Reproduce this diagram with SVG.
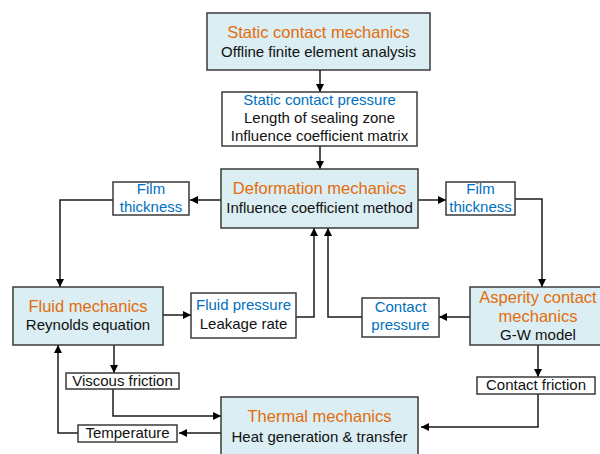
<svg xmlns="http://www.w3.org/2000/svg" width="600" height="454" viewBox="0 0 600 454">
<style>
.main{fill:#daeef3;stroke:#3a3a3a;stroke-width:1.5}
.lab{fill:#ffffff;stroke:#3a3a3a;stroke-width:1.5}
text{font-family:"Liberation Sans",Arial,sans-serif;text-anchor:middle}
.t{font-size:16.5px;fill:#e46c0a}
.b{font-size:15px;fill:#111111}
.u{font-size:15px;fill:#0070c0}
.c{fill:none;stroke:#1a1a1a;stroke-width:1.5}
</style>
<defs>
<marker id="ah" viewBox="0 0 10 10" refX="10" refY="5" markerWidth="8" markerHeight="8" markerUnits="userSpaceOnUse" orient="auto">
<path d="M0,0 L10,5 L0,10 z" fill="#000"/>
</marker>
</defs>
<rect width="600" height="454" fill="#ffffff"/>
<g id="connectors">
<path class="c" marker-end="url(#ah)" d="M320,70 V92"/>
<path class="c" marker-end="url(#ah)" d="M320,146 V169"/>
<path class="c" marker-end="url(#ah)" d="M221,200 H190"/>
<path class="c" marker-end="url(#ah)" d="M113,200 H60 V287"/>
<path class="c" marker-end="url(#ah)" d="M418,200 H446"/>
<path class="c" marker-end="url(#ah)" d="M515,199 H542 V287"/>
<path class="c" marker-end="url(#ah)" d="M163,315 H191"/>
<path class="c" marker-end="url(#ah)" d="M296,317 H314 V228"/>
<path class="c" marker-end="url(#ah)" d="M470,317 H439"/>
<path class="c" marker-end="url(#ah)" d="M362,317 H328 V228"/>
<path class="c" marker-end="url(#ah)" d="M538,345 V377"/>
<path class="c" marker-end="url(#ah)" d="M538,394 V427 H421"/>
<path class="c" marker-end="url(#ah)" d="M114,345 V373"/>
<path class="c" marker-end="url(#ah)" d="M113,389 V416 H221"/>
<path class="c" marker-end="url(#ah)" d="M221,433 H179"/>
<path class="c" marker-end="url(#ah)" d="M78,433 H58 V345"/>
</g>
<g id="static">
<rect class="main" x="207" y="13" width="223" height="57"/>
<text class="t" x="318.5" y="38">Static contact mechanics</text>
<text class="b" x="318.5" y="57">Offline finite element analysis</text>
</g>
<g id="pressure">
<rect class="lab" x="222" y="92" width="195" height="54"/>
<text class="u" x="319.5" y="105">Static contact pressure</text>
<text class="b" x="319.5" y="123">Length of sealing zone</text>
<text class="b" x="319.5" y="141">Influence coefficient matrix</text>
</g>
<g id="deformation">
<rect class="main" x="221" y="169" width="197" height="59"/>
<text class="t" x="319.5" y="194">Deformation mechanics</text>
<text class="b" x="319.5" y="213">Influence coefficient method</text>
</g>
<g id="film-left">
<rect class="lab" x="113" y="182" width="76" height="33"/>
<text class="u" x="151" y="194">Film</text>
<text class="u" x="151" y="212">thickness</text>
</g>
<g id="film-right">
<rect class="lab" x="446" y="182" width="69" height="33"/>
<text class="u" x="480.5" y="194">Film</text>
<text class="u" x="480.5" y="212">thickness</text>
</g>
<g id="fluid">
<rect class="main" x="13" y="287" width="150" height="58"/>
<text class="t" x="88" y="312">Fluid mechanics</text>
<text class="b" x="88" y="330">Reynolds equation</text>
</g>
<g id="fluid-pressure">
<rect class="lab" x="191" y="293" width="105" height="45"/>
<text class="u" x="243.5" y="310">Fluid pressure</text>
<text class="b" x="243.5" y="329">Leakage rate</text>
</g>
<g id="contact-pressure">
<rect class="lab" x="362" y="298" width="77" height="39"/>
<text class="u" x="400.5" y="312">Contact</text>
<text class="u" x="400.5" y="330">pressure</text>
</g>
<g id="asperity">
<rect class="main" x="470" y="287" width="138" height="58"/>
<text class="t" x="538" y="303">Asperity contact</text>
<text class="t" x="538" y="322">mechanics</text>
<text class="b" x="538" y="340">G-W model</text>
</g>
<g id="contact-friction">
<rect class="lab" x="477" y="377" width="118" height="17"/>
<text class="b" x="536" y="390">Contact friction</text>
</g>
<g id="viscous">
<rect class="lab" x="66" y="373" width="113" height="16"/>
<text class="b" x="122.5" y="386">Viscous friction</text>
</g>
<g id="temperature">
<rect class="lab" x="78" y="425" width="99" height="17"/>
<text class="b" x="127.5" y="438">Temperature</text>
</g>
<g id="thermal">
<rect class="main" x="221" y="397" width="197" height="62"/>
<text class="t" x="319.5" y="422">Thermal mechanics</text>
<text class="b" x="319.5" y="442">Heat generation &amp; transfer</text>
</g>
</svg>
